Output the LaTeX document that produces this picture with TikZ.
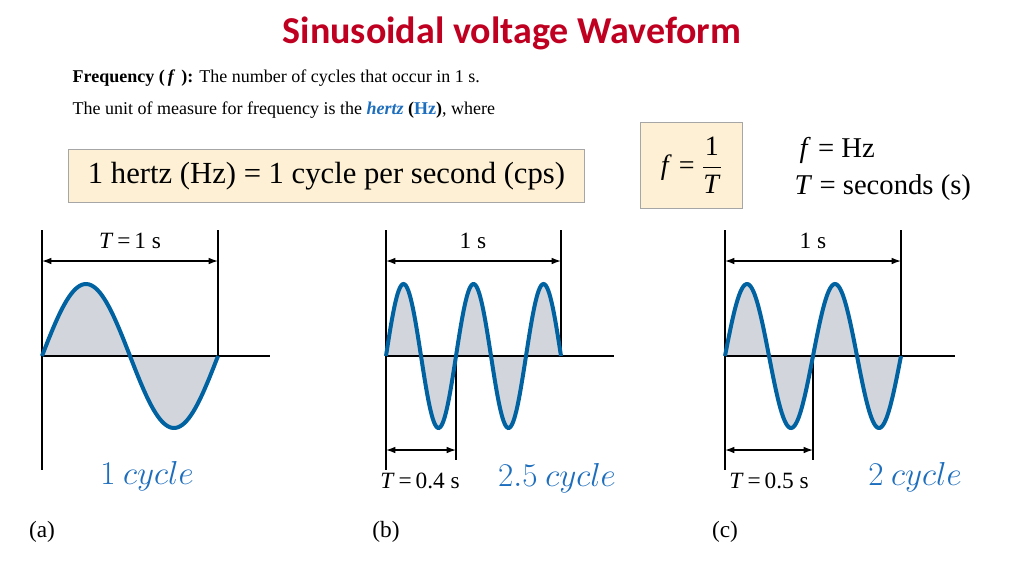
\documentclass[tikz,border=0pt]{standalone}
\usepackage{amsmath}
\usepackage{fontspec}
\setmainfont{Liberation Serif}
\newfontfamily\titlefont{Carlito}
\usetikzlibrary{arrows.meta,positioning}
\definecolor{titlered}{RGB}{192,0,32}
\definecolor{wave}{RGB}{0,98,160}
\definecolor{wavefill}{RGB}{210,214,220}
\definecolor{boxfill}{RGB}{253,240,212}
\definecolor{hzblue}{RGB}{30,110,190}
\newcommand{\vf}{\textit{f}}
\newcommand{\vT}{\textit{T}}
\tikzset{
  axis/.style={line width=1.4pt},
  dim/.style={line width=1pt,{Latex[length=7pt,width=5pt]}-{Latex[length=7pt,width=5pt]}},
  curve/.style={wave,line width=3pt},
  formula/.style={fill=boxfill,draw=gray!70,line width=0.8pt,inner sep=6pt},
  lbl/.style={font=\fontsize{17.5}{19}\selectfont},
  cyc/.style={text=hzblue,font=\fontsize{23}{26}\selectfont}
}
\begin{document}
\begin{tikzpicture}[x=0.75pt,y=-0.75pt]
\useasboundingbox (0,0) rectangle (1024,576);
% heading and text
\node[text=titlered,font=\titlefont\bfseries\fontsize{28.5}{32}\selectfont] (title) at (512,33) {Sinusoidal voltage Waveform};
\node[anchor=west,font=\fontsize{13.5}{15}\selectfont] (freq) at (68,78) {\textbf{Frequency (\,\textit{f}\,\,):} The number of cycles that occur in 1 s.};
\node[anchor=west,font=\fontsize{13.5}{15}\selectfont] (unit) at (68,110) {The unit of measure for frequency is the \textcolor{hzblue}{\textbf{\textit{hertz}}} \textbf{(\textcolor{hzblue}{Hz})}, where};
\node[formula,minimum width=387pt,minimum height=40pt,font=\fontsize{23}{25}\selectfont] (hertz) at (326.5,176) {1 hertz (Hz) = 1 cycle per second (cps)};
\node[formula,minimum width=77pt,minimum height=65pt,font=\fontsize{21}{23}\selectfont] (ft) at (691.5,165.5) {\vf\ = $\dfrac{\text{1}}{\text{\vT}}$};
\node[anchor=west,font=\fontsize{21.5}{23}\selectfont] (fhz) at (795,150) {\vf\ = Hz};
\node[anchor=west,font=\fontsize{21.5}{23}\selectfont] (tsec) at (790,188) {\vT\ = seconds (s)};
% panel (a)
\coordinate (a0) at (42,356);
\fill[wavefill] plot[domain=0:176,samples=80] ({42+\x},{356-72*sin(\x/176*360)}) -- cycle;
\draw[axis] (42,230) -- (42,470);
\draw[axis] (a0) -- (270,356);
\draw[axis] (218,230) -- (218,356);
\draw[curve] plot[domain=0:176,samples=80] ({42+\x},{356-72*sin(\x/176*360)});
\coordinate (aL) at (42,261); \coordinate (aR) at (218,261);
\draw[dim] (aL) -- (aR);
\node[lbl] (ta) at (130,241) {\vT\,=\,1 s};
\node[cyc] (ca) at (147,476) {$1\ cycle$};
\node[lbl] (pa) at (42,532) {(a)};
% panel (b)
\fill[wavefill] plot[domain=0:175,samples=150] ({386+\x},{356-72*sin(\x/70*360)}) -- cycle;
\draw[axis] (386,230) -- (386,470);
\draw[axis] (386,356) -- (614,356);
\draw[axis] (561,230) -- (561,356);
\draw[axis] (456,356) -- (456,460);
\draw[curve] plot[domain=0:175,samples=150] ({386+\x},{356-72*sin(\x/70*360)});
\coordinate (bL) at (386,261); \coordinate (bR) at (561,261);
\draw[dim] (bL) -- (bR);
\node[lbl] (tb) at (473,241) {1 s};
\coordinate (bl) at (386,450); \coordinate (br) at (456,450);
\draw[dim] (bl) -- (br);
\node[lbl] (tb2) at (420,481) {\vT\,=\,0.4 s};
\node[cyc] (cb) at (557,478) {$2.5\ cycle$};
\node[lbl] (pb) at (386,532) {(b)};
% panel (c)
\fill[wavefill] plot[domain=0:176,samples=150] ({725+\x},{356-72*sin(\x/88*360)}) -- cycle;
\draw[axis] (725,230) -- (725,470);
\draw[axis] (725,356) -- (955,356);
\draw[axis] (901,230) -- (901,356);
\draw[axis] (813,356) -- (813,460);
\draw[curve] plot[domain=0:176,samples=150] ({725+\x},{356-72*sin(\x/88*360)});
\coordinate (cL) at (725,261); \coordinate (cR) at (901,261);
\draw[dim] (cL) -- (cR);
\node[lbl] (tc) at (813,241) {1 s};
\coordinate (cl) at (725,450); \coordinate (cr) at (813,450);
\draw[dim] (cl) -- (cr);
\node[lbl] (tc2) at (769,481) {\vT\,=\,0.5 s};
\node[cyc] (cc) at (915,477) {$2\ cycle$};
\node[lbl] (pc) at (725,532) {(c)};
\end{tikzpicture}
\end{document}
